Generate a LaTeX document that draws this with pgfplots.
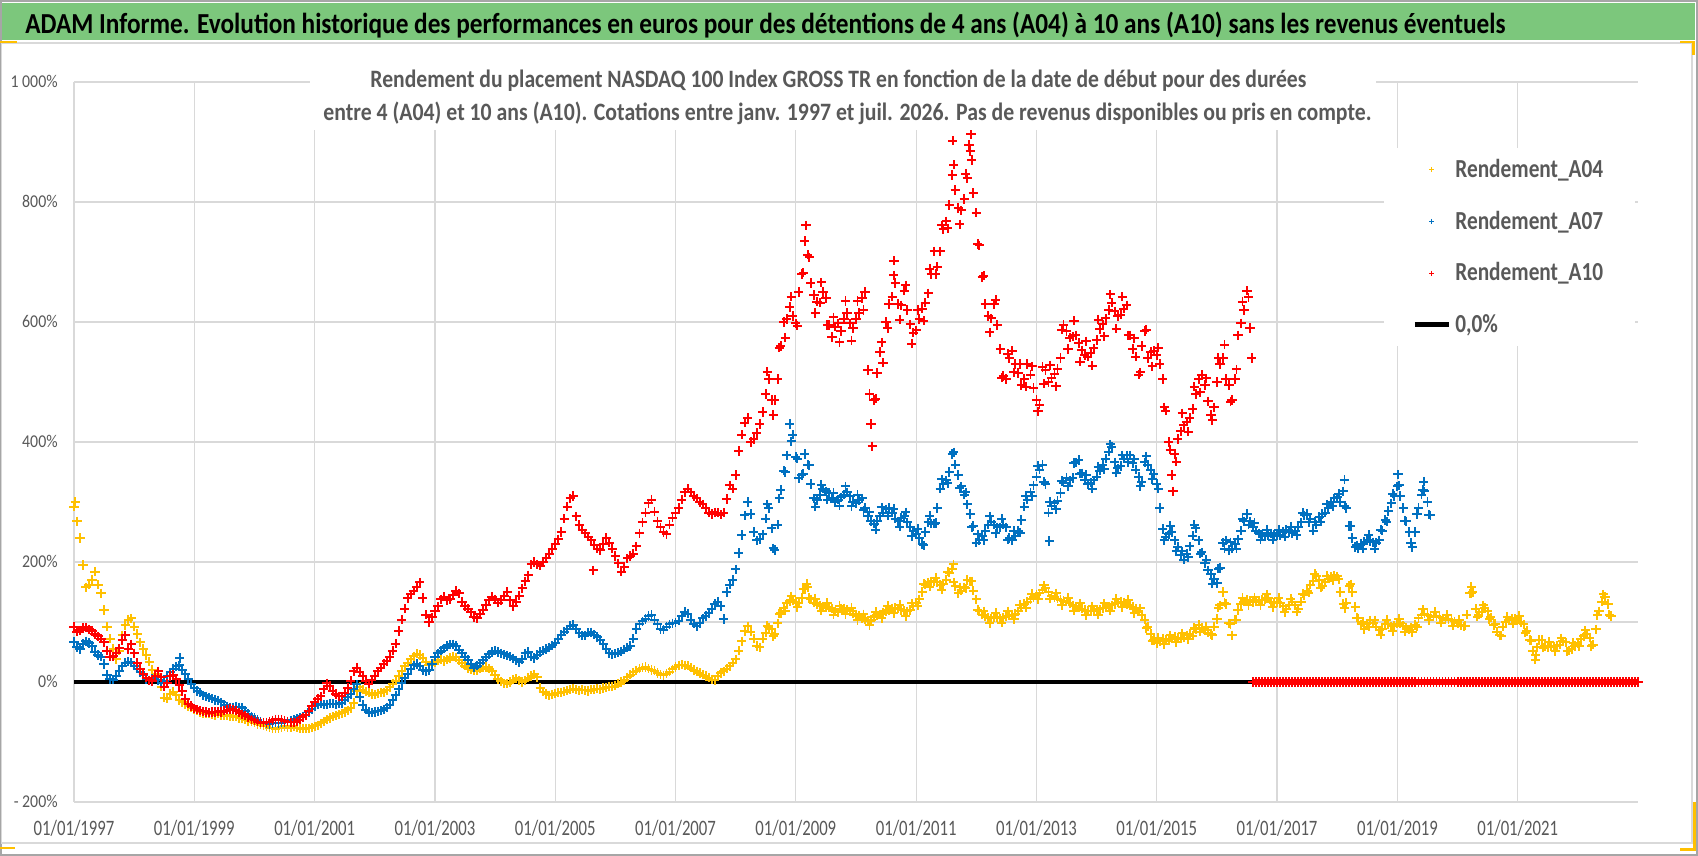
\documentclass[border=0pt]{standalone}
\usepackage{fontspec}
\usepackage{graphicx}
\usepackage{pgfplots}
\pgfplotsset{compat=1.18}
\setmainfont{Carlito}
\newfontfamily\xtickfont{Carlito}[FakeStretch=0.76]
\newfontfamily\ytickfont{Carlito}[FakeStretch=0.88]
\newfontfamily\legfont{Carlito}[FakeStretch=0.82]
\definecolor{ygold}{RGB}{255,192,0}
\definecolor{bblue}{RGB}{0,112,192}
\definecolor{rred}{RGB}{255,0,0}
\definecolor{gridgray}{RGB}{217,217,217}
\definecolor{txtgray}{RGB}{89,89,89}
\definecolor{bannergreen}{RGB}{124,199,124}
\pgfplotsset{
 ptstyle/.style={only marks, mark=+, mark size=2.3pt, mark options={line width=0.95pt}, forget plot}}
\begin{document}
\begin{tikzpicture}
\path[use as bounding box] (0pt,0pt) rectangle (849pt,428pt);
\fill[white] (0pt,0pt) rectangle (849pt,428pt);
\fill[bannergreen] (0pt,408pt) rectangle (847.5pt,426.5pt);
\draw[gray!70, line width=0.8pt] (0.4pt,0.4pt) rectangle (848.6pt,427.6pt);
\draw[gray!30, line width=0.6pt] (0.8pt,6.5pt) rectangle (846pt,406.5pt);
\node[anchor=base west, inner sep=0] at (12.5pt,411.4pt) {\resizebox{740pt}{\height}{\fontsize{14.5}{16}\selectfont\bfseries ADAM Informe. Evolution historique des performances en euros pour des détentions de 4 ans (A04) à 10 ans (A10) sans les revenus éventuels}};
\begin{axis}[
 at={(37pt,27pt)}, anchor=south west,
 width=782pt, height=360pt, scale only axis,
 xmin=1997, xmax=2023, ymin=-200, ymax=1000,
 clip=false,
 axis line style={draw=none},
 major tick length=0pt,
 xtick={1997,1999,2001,2003,2005,2007,2009,2011,2013,2015,2017,2019,2021},
 xticklabels={01/01/1997,01/01/1999,01/01/2001,01/01/2003,01/01/2005,01/01/2007,01/01/2009,01/01/2011,01/01/2013,01/01/2015,01/01/2017,01/01/2019,01/01/2021},
 ytick={-200,0,200,400,600,800,1000},
 yticklabels={- 200\%,0\%,200\%,400\%,600\%,800\%,1 000\%},
 extra y ticks={100}, extra y tick labels={},
 xmajorgrids, ymajorgrids,
 grid style={draw=gridgray, line width=0.6pt},
 extra y tick style={grid style={draw=gridgray, line width=0.6pt}},
 xticklabel style={font=\xtickfont\fontsize{11}{12}\selectfont, text=txtgray, anchor=base, yshift=-17pt, inner sep=0pt},
 yticklabel style={font=\ytickfont\fontsize{9}{10}\selectfont, text=txtgray, anchor=base east, inner sep=0pt, xshift=-8pt, yshift=-2.8pt},
 legend style={at={(axis description cs:0.8376,0.9083)}, anchor=north west, fill=white, draw=none, inner xsep=14pt, inner ysep=3.4pt, font=\legfont\bfseries\fontsize{13}{15}\selectfont, text=txtgray, row sep=11.2pt, nodes={inner sep=2pt, text depth=0.15em}},
 legend cell align=left,
]
% A04
\addplot[ptstyle, ygold] coordinates {
(1997,292)(1997.02,300)(1997.05,268)(1997.1,240)(1997.15,195)(1997.2,158)(1997.25,162)(1997.3,170)(1997.35,184)(1997.4,162)(1997.45,148)
(1997.5,120)(1997.55,92)(1997.6,72)(1997.65,55)(1997.7,38)(1997.75,52)(1997.8,78)(1997.85,95)(1997.9,104)(1997.95,106)
(1998,92)(1998.05,80)(1998.1,66)(1998.15,55)(1998.2,45)(1998.25,34)(1998.3,20)(1998.35,14)(1998.4,8)(1998.45,-8)
(1998.5,-26)(1998.55,-28)(1998.6,-20)(1998.65,-16)(1998.7,-22)(1998.75,-30)(1998.8,-34)(1998.85,-37)(1998.9,-40)(1998.95,-43)
(1999,-46)(1999.05,-48)(1999.1,-50)(1999.15,-52)(1999.2,-53)(1999.25,-52)(1999.3,-54)(1999.35,-55)(1999.4,-53)(1999.45,-55)
(1999.5,-56)(1999.55,-55)(1999.6,-57)(1999.65,-58)(1999.7,-57)(1999.75,-60)(1999.8,-61)(1999.85,-63)(1999.9,-65)(1999.95,-66)
(2000,-68)(2000.05,-70)(2000.1,-71)(2000.15,-73)(2000.2,-74)(2000.25,-76)(2000.3,-77)(2000.35,-78)(2000.4,-77)(2000.45,-75)
(2000.5,-74)(2000.55,-76)(2000.6,-75)(2000.65,-74)(2000.7,-76)(2000.75,-77)(2000.8,-78)(2000.85,-78)(2000.9,-77)(2000.95,-76)
(2001,-74)(2001.05,-72)(2001.1,-69)(2001.15,-66)(2001.2,-63)(2001.25,-60)(2001.3,-58)(2001.35,-56)(2001.4,-54)(2001.45,-52)
(2001.5,-50)(2001.55,-47)(2001.6,-44)(2001.65,-35)(2001.7,-15)(2001.75,-8)(2001.8,-13)(2001.85,-16)(2001.9,-18)(2001.95,-20)
(2002,-21)(2002.05,-19)(2002.1,-18)(2002.15,-17)(2002.2,-14)(2002.25,-9)(2002.3,-3)(2002.35,2)(2002.4,10)(2002.45,18)
(2002.5,26)(2002.55,32)(2002.6,38)(2002.65,43)(2002.7,47)(2002.75,45)(2002.8,40)(2002.85,34)(2002.9,28)(2002.95,30)
(2003,33)(2003.05,36)(2003.1,37)(2003.15,35)(2003.2,37)(2003.25,40)(2003.3,42)(2003.35,41)(2003.4,36)(2003.45,31)
(2003.5,27)(2003.55,23)(2003.6,21)(2003.65,20)(2003.7,19)(2003.75,22)(2003.8,24)(2003.85,25)(2003.9,22)(2003.95,19)
(2004,12)(2004.05,5)(2004.1,1)(2004.15,-2)(2004.2,-3)(2004.25,0)(2004.3,4)(2004.35,6)(2004.4,3)(2004.45,0)
(2004.5,3)(2004.55,7)(2004.6,10)(2004.65,13)(2004.7,8)(2004.75,-10)(2004.8,-16)(2004.85,-20)(2004.9,-22)(2004.95,-21)
(2005,-19)(2005.05,-18)(2005.1,-17)(2005.15,-16)(2005.2,-14)(2005.25,-13)(2005.3,-11)(2005.35,-12)(2005.4,-14)(2005.45,-13)
(2005.5,-14)(2005.55,-15)(2005.6,-13)(2005.65,-12)(2005.7,-11)(2005.75,-12)(2005.8,-10)(2005.85,-9)(2005.9,-8)(2005.95,-8)
(2006,-6)(2006.05,-3)(2006.1,0)(2006.15,3)(2006.2,8)(2006.25,12)(2006.3,16)(2006.35,19)(2006.4,22)(2006.45,24)
(2006.5,25)(2006.55,22)(2006.6,20)(2006.65,19)(2006.7,15)(2006.75,12)(2006.8,11)(2006.85,14)(2006.9,17)(2006.95,21)
(2007,25)(2007.05,28)(2007.1,29)(2007.15,28)(2007.2,27)(2007.25,24)(2007.3,20)(2007.35,18)(2007.4,15)(2007.45,12)
(2007.5,10)(2007.55,7)(2007.6,4)(2007.65,3)(2007.7,10)(2007.75,15)(2007.8,18)(2007.85,22)(2007.9,26)(2007.95,32)
(2008,38)(2008.05,52)(2008.1,68)(2008.15,85)(2008.2,93)(2008.25,84)(2008.3,72)(2008.35,60)(2008.4,58)(2008.45,72)
(2008.5,82)(2008.55,91)(2008.6,88)(2008.65,80)(2008.7,98)(2008.75,115)(2008.8,124)(2008.85,131)(2008.9,135)(2008.95,136)
(2009,134)(2009.05,132)(2009.1,140)(2009.15,155)(2009.18,164)(2009.2,158)(2009.25,138)(2009.3,132)(2009.35,130)(2009.4,128)(2009.45,126)
(2009.5,125)(2009.55,124)(2009.6,122)(2009.65,118)(2009.7,116)(2009.75,122)(2009.8,123)(2009.85,120)(2009.9,118)(2009.95,114)
(2010,112)(2010.05,110)(2010.1,106)(2010.15,104)(2010.2,102)(2010.25,104)(2010.3,108)(2010.35,111)(2010.4,113)(2010.45,115)
(2010.5,118)(2010.55,120)(2010.6,123)(2010.65,124)(2010.7,122)(2010.75,120)(2010.8,119)(2010.85,118)(2010.9,120)(2010.95,126)
(2011,132)(2011.05,138)(2011.1,150)(2011.15,162)(2011.2,166)(2011.25,168)(2011.3,167)(2011.35,166)(2011.4,162)(2011.45,163)
(2011.5,170)(2011.55,182)(2011.6,188)(2011.62,196)(2011.65,160)(2011.7,148)(2011.75,152)(2011.8,158)(2011.85,170)(2011.9,168)(2011.95,152)
(2012,138)(2012.05,118)(2012.1,112)(2012.15,109)(2012.2,107)(2012.25,106)(2012.3,108)(2012.35,107)(2012.4,106)(2012.45,108)
(2012.5,110)(2012.55,111)(2012.6,112)(2012.65,114)(2012.7,118)(2012.75,124)(2012.8,130)(2012.85,134)(2012.9,138)(2012.95,141)
(2013,145)(2013.05,148)(2013.1,154)(2013.15,156)(2013.2,150)(2013.25,144)(2013.3,141)(2013.35,139)(2013.4,137)(2013.45,135)
(2013.5,134)(2013.55,131)(2013.6,128)(2013.65,126)(2013.7,124)(2013.75,122)(2013.8,120)(2013.85,119)(2013.9,118)(2013.95,118)
(2014,120)(2014.05,121)(2014.1,123)(2014.15,124)(2014.2,126)(2014.25,128)(2014.3,130)(2014.35,132)(2014.4,134)(2014.45,133)
(2014.5,130)(2014.55,128)(2014.6,125)(2014.65,122)(2014.7,118)(2014.75,112)(2014.8,104)(2014.85,92)(2014.9,80)(2014.95,70)
(2015,65)(2015.05,68)(2015.1,72)(2015.15,70)(2015.2,69)(2015.25,72)(2015.3,75)(2015.35,74)(2015.4,72)(2015.45,74)
(2015.5,78)(2015.55,80)(2015.6,77)(2015.65,88)(2015.7,95)(2015.75,90)(2015.8,86)(2015.85,82)(2015.9,80)(2015.95,92)
(2016,105)(2016.05,128)(2016.1,150)(2016.15,130)(2016.2,98)(2016.25,78)(2016.3,104)(2016.35,120)(2016.4,130)(2016.45,134)
(2016.5,137)(2016.55,135)(2016.6,133)(2016.65,134)(2016.7,136)(2016.75,137)(2016.8,137)(2016.85,140)(2016.9,134)(2016.95,132)
(2017,133)(2017.05,131)(2017.1,126)(2017.15,122)(2017.2,128)(2017.25,134)(2017.3,128)(2017.35,122)(2017.4,134)(2017.45,145)
(2017.5,152)(2017.55,162)(2017.6,168)(2017.65,177)(2017.7,170)(2017.75,160)(2017.8,166)(2017.85,172)(2017.9,175)(2017.95,178)
(2018,176)(2018.05,150)(2018.1,130)(2018.15,132)(2018.2,160)(2018.25,150)(2018.3,125)(2018.35,106)(2018.4,96)(2018.45,88)
(2018.5,98)(2018.55,103)(2018.6,98)(2018.65,92)(2018.7,86)(2018.75,88)(2018.8,96)(2018.85,96)(2018.9,93)(2018.95,94)
(2019,97)(2019.05,98)(2019.1,94)(2019.15,90)(2019.2,87)(2019.25,83)(2019.3,95)(2019.35,106)(2019.4,112)(2019.45,114)
(2019.5,112)(2019.55,110)(2019.6,109)(2019.65,110)(2019.7,108)(2019.75,106)(2019.8,104)(2019.85,105)(2019.9,103)(2019.95,101)
(2020,98)(2020.05,95)(2020.1,93)(2020.15,112)(2020.2,148)(2020.23,159)(2020.25,150)(2020.3,122)(2020.35,112)(2020.4,116)(2020.45,124)
(2020.5,118)(2020.55,108)(2020.6,95)(2020.65,84)(2020.7,78)(2020.75,92)(2020.8,100)(2020.85,103)(2020.9,105)(2020.95,106)
(2021,104)(2021.05,100)(2021.1,96)(2021.15,85)(2021.2,70)(2021.25,52)(2021.29,37)(2021.3,45)(2021.35,70)(2021.4,70)(2021.45,60)
(2021.5,58)(2021.55,60)(2021.6,59)(2021.65,60)(2021.7,62)(2021.75,68)(2021.8,66)(2021.85,52)(2021.9,55)(2021.95,60)
(2022,64)(2022.05,72)(2022.1,76)(2022.15,80)(2022.2,74)(2022.25,62)(2022.3,88)(2022.35,118)(2022.4,134)(2022.45,142)
(2022.5,130)(2022.55,110)
};
% A04: further points of the band 2008-2022
\addplot[ptstyle, ygold] coordinates {
(2008.525,94)(2008.625,76)(2008.725,114)(2008.825,119)(2008.925,143)(2009.025,125)(2009.125,155)(2009.225,140)(2009.325,139)(2009.425,119)
(2009.525,132)(2009.625,112)(2009.725,127)(2009.825,113)(2009.925,124)(2010.025,103)(2010.125,113)(2010.225,95)(2010.325,117)(2010.425,106)
(2010.525,127)(2010.625,115)(2010.725,129)(2010.825,110)(2010.925,131)(2011.025,127)(2011.125,164)(2011.225,159)(2011.325,174)(2011.425,154)
(2011.525,184)(2011.625,166)(2011.725,158)(2011.825,156)(2011.925,168)(2012.025,120)(2012.125,118)(2012.225,98)(2012.325,115)(2012.425,99)
(2012.525,118)(2012.625,105)(2012.725,129)(2012.825,124)(2012.925,147)(2013.025,138)(2013.125,161)(2013.225,139)(2013.325,148)(2013.425,128)
(2013.525,140)(2013.625,119)(2013.725,131)(2013.825,111)(2013.925,126)(2014.025,112)(2014.125,131)(2014.225,119)(2014.325,139)(2014.425,125)
(2014.525,137)(2014.625,115)(2014.725,123)(2014.825,90)(2014.925,69)(2015.025,74)(2015.125,63)(2015.225,78)(2015.325,66)(2015.425,81)
(2015.525,71)(2015.625,90)(2015.725,84)(2015.825,92)(2015.925,78)(2016.025,124)(2016.125,132)(2016.225,96)(2016.325,104)(2016.425,140)
(2016.525,128)(2016.625,141)(2016.725,128)(2016.825,146)(2016.925,125)(2017.025,140)(2017.125,116)(2017.225,139)(2017.325,117)(2017.425,147)
(2017.525,149)(2017.625,180)(2017.725,157)(2017.825,177)(2017.925,170)(2018.025,171)(2018.125,123)(2018.225,163)(2018.325,107)(2018.425,100)
(2018.525,92)(2018.625,103)(2018.725,79)(2018.825,104)(2018.925,85)(2019.025,105)(2019.125,84)(2019.225,91)(2019.325,92)(2019.425,121)
(2019.525,103)(2019.625,117)(2019.725,99)(2019.825,112)(2019.925,94)(2020.025,104)(2020.125,94)(2020.225,148)(2020.325,109)(2020.425,128)
(2020.525,105)(2020.625,97)(2020.725,77)(2020.825,109)(2020.925,97)(2021.025,110)(2021.125,82)(2021.225,69)(2021.325,58)(2021.425,57)
(2021.525,67)(2021.625,51)(2021.725,73)(2021.825,51)(2021.925,65)(2022.025,60)(2022.125,86)(2022.225,60)(2022.325,111)(2022.425,146)
(2022.525,112)
};
% A07
\addplot[ptstyle, bblue] coordinates {
(1997,67)(1997.05,58)(1997.1,55)(1997.15,64)(1997.2,68)(1997.25,65)(1997.3,60)(1997.35,50)(1997.4,45)(1997.45,42)
(1997.5,30)(1997.55,12)(1997.6,5)(1997.65,4)(1997.7,10)(1997.75,18)(1997.8,26)(1997.85,32)(1997.9,34)(1997.95,32)
(1998,27)(1998.05,22)(1998.1,16)(1998.15,11)(1998.2,5)(1998.25,3)(1998.3,6)(1998.35,8)(1998.4,3)(1998.45,-2)
(1998.5,2)(1998.55,10)(1998.6,16)(1998.65,22)(1998.7,26)(1998.75,28)(1998.76,40)(1998.8,20)(1998.85,14)(1998.9,5)(1998.95,-3)
(1999,-10)(1999.05,-15)(1999.1,-18)(1999.15,-22)(1999.2,-24)(1999.25,-26)(1999.3,-28)(1999.35,-30)(1999.4,-31)(1999.45,-34)
(1999.5,-38)(1999.55,-41)(1999.6,-42)(1999.65,-42)(1999.7,-41)(1999.75,-42)(1999.8,-43)(1999.85,-48)(1999.9,-53)(1999.95,-57)
(2000,-60)(2000.05,-63)(2000.1,-66)(2000.15,-68)(2000.2,-69)(2000.25,-70)(2000.3,-69)(2000.35,-68)(2000.4,-69)(2000.45,-68)
(2000.5,-67)(2000.55,-66)(2000.6,-64)(2000.65,-63)(2000.7,-61)(2000.75,-59)(2000.8,-57)(2000.85,-55)(2000.9,-50)(2000.95,-45)
(2001,-40)(2001.05,-37)(2001.1,-36)(2001.15,-38)(2001.2,-37)(2001.25,-36)(2001.3,-36)(2001.35,-37)(2001.4,-36)(2001.45,-35)
(2001.5,-30)(2001.55,-25)(2001.6,-20)(2001.65,-12)(2001.7,-4)(2001.75,-25)(2001.8,-38)(2001.85,-46)(2001.9,-50)(2001.95,-51)
(2002,-50)(2002.05,-49)(2002.1,-48)(2002.15,-46)(2002.2,-43)(2002.25,-38)(2002.3,-30)(2002.35,-22)(2002.4,-12)(2002.45,-2)
(2002.5,6)(2002.55,14)(2002.6,22)(2002.65,28)(2002.7,30)(2002.75,26)(2002.8,20)(2002.85,18)(2002.9,20)(2002.95,30)
(2003,42)(2003.05,48)(2003.1,52)(2003.15,56)(2003.2,60)(2003.25,62)(2003.3,63)(2003.35,60)(2003.4,54)(2003.45,48)
(2003.5,42)(2003.55,37)(2003.6,30)(2003.65,24)(2003.7,27)(2003.75,31)(2003.8,36)(2003.85,41)(2003.9,46)(2003.95,50)
(2004,52)(2004.05,50)(2004.1,48)(2004.15,46)(2004.2,44)(2004.25,42)(2004.3,39)(2004.35,36)(2004.4,33)(2004.45,38)
(2004.5,48)(2004.55,50)(2004.6,42)(2004.65,40)(2004.7,45)(2004.75,50)(2004.8,52)(2004.85,55)(2004.9,58)(2004.95,61)
(2005,65)(2005.05,72)(2005.1,79)(2005.15,84)(2005.2,88)(2005.25,94)(2005.3,95)(2005.35,88)(2005.4,81)(2005.45,77)
(2005.5,78)(2005.55,82)(2005.6,83)(2005.65,79)(2005.7,75)(2005.75,70)(2005.8,64)(2005.85,55)(2005.9,48)(2005.95,46)
(2006,47)(2006.05,49)(2006.1,51)(2006.15,54)(2006.2,57)(2006.25,60)(2006.3,72)(2006.35,88)(2006.4,96)(2006.45,101)
(2006.5,105)(2006.55,110)(2006.6,112)(2006.65,104)(2006.7,96)(2006.75,88)(2006.8,87)(2006.85,92)(2006.9,96)(2006.95,98)
(2007,99)(2007.05,102)(2007.1,110)(2007.15,117)(2007.2,114)(2007.25,104)(2007.3,97)(2007.35,93)(2007.4,98)(2007.45,106)
(2007.5,110)(2007.55,115)(2007.6,122)(2007.65,130)(2007.7,134)(2007.75,126)(2007.8,105)(2007.85,150)(2007.9,162)(2007.95,170)
(2008,188)(2008.05,215)(2008.1,245)(2008.15,278)(2008.2,300)(2008.25,280)(2008.3,250)(2008.35,236)(2008.4,238)(2008.45,246)
(2008.5,272)(2008.55,290)(2008.6,256)(2008.65,220)(2008.7,262)(2008.75,320)(2008.8,352)(2008.85,378)(2008.9,430)(2008.95,412)
(2009,375)(2009.05,340)(2009.1,345)(2009.15,380)(2009.2,362)(2009.25,330)(2009.3,306)(2009.35,303)(2009.4,312)(2009.45,322)
(2009.5,318)(2009.55,315)(2009.6,306)(2009.65,300)(2009.7,304)(2009.75,308)(2009.8,312)(2009.85,316)(2009.9,310)(2009.95,300)
(2010,298)(2010.05,303)(2010.1,306)(2010.15,290)(2010.2,276)(2010.25,268)(2010.3,264)(2010.35,268)(2010.4,276)(2010.45,282)
(2010.5,288)(2010.55,290)(2010.6,282)(2010.65,272)(2010.7,268)(2010.75,274)(2010.8,276)(2010.85,266)(2010.9,258)(2010.95,252)
(2011,247)(2011.05,240)(2011.1,230)(2011.15,250)(2011.2,266)(2011.25,264)(2011.3,264)(2011.35,290)(2011.4,322)(2011.45,330)
(2011.5,336)(2011.55,350)(2011.6,380)(2011.65,362)(2011.7,345)(2011.75,326)(2011.8,312)(2011.85,296)(2011.9,280)(2011.95,260)
(2012,232)(2012.05,236)(2012.1,244)(2012.15,252)(2012.2,262)(2012.25,267)(2012.3,262)(2012.35,258)(2012.4,258)(2012.45,262)
(2012.5,258)(2012.55,240)(2012.6,236)(2012.65,244)(2012.7,252)(2012.75,270)(2012.8,292)(2012.85,304)(2012.9,316)(2012.95,328)
(2013,342)(2013.05,354)(2013.1,362)(2013.15,330)(2013.2,282)(2013.21,235)(2013.25,294)(2013.3,298)(2013.35,302)(2013.4,315)(2013.45,332)
(2013.5,340)(2013.55,336)(2013.6,340)(2013.65,366)(2013.7,370)(2013.75,348)(2013.8,336)(2013.85,330)(2013.9,332)(2013.95,336)
(2014,342)(2014.05,352)(2014.1,362)(2014.15,372)(2014.2,384)(2014.25,392)(2014.3,366)(2014.35,356)(2014.4,360)(2014.45,372)
(2014.5,378)(2014.55,378)(2014.6,365)(2014.65,354)(2014.7,342)(2014.75,334)(2014.8,366)(2014.85,362)(2014.9,354)(2014.95,346)
(2015,330)(2015.05,290)(2015.1,255)(2015.15,242)(2015.2,246)(2015.25,250)(2015.3,236)(2015.35,225)(2015.4,212)(2015.45,204)
(2015.5,214)(2015.55,226)(2015.6,244)(2015.65,256)(2015.7,236)(2015.75,216)(2015.8,198)(2015.85,186)(2015.9,180)(2015.95,172)
(2016,165)(2016.05,190)(2016.1,232)(2016.15,236)(2016.2,220)(2016.25,222)(2016.3,230)(2016.35,238)(2016.4,252)(2016.45,268)
(2016.5,280)(2016.55,268)(2016.6,258)(2016.65,252)(2016.7,248)(2016.75,246)(2016.8,243)(2016.85,245)(2016.9,248)(2016.95,246)
(2017,244)(2017.05,245)(2017.1,250)(2017.15,254)(2017.2,250)(2017.25,248)(2017.3,252)(2017.35,258)(2017.4,266)(2017.45,278)
(2017.5,280)(2017.55,272)(2017.6,252)(2017.65,262)(2017.7,275)(2017.75,280)(2017.8,282)(2017.85,290)(2017.9,300)(2017.95,306)
(2018,308)(2018.05,300)(2018.1,318)(2018.12,337)(2018.15,290)(2018.2,260)(2018.25,240)(2018.3,225)(2018.35,222)(2018.4,230)(2018.45,234)
(2018.5,236)(2018.55,235)(2018.6,233)(2018.65,232)(2018.7,236)(2018.75,252)(2018.8,270)(2018.85,285)(2018.9,298)(2018.95,310)
(2019,326)(2019.01,346)(2019.05,310)(2019.1,290)(2019.15,268)(2019.2,250)(2019.25,225)(2019.3,250)(2019.35,290)(2019.4,312)(2019.44,334)(2019.45,318)
(2019.5,300)(2019.55,278)
};
% A07: further points of the band 2008-2019
\addplot[ptstyle, bblue] coordinates {
(2008.525,296)(2008.625,223)(2008.725,306)(2008.825,350)(2008.925,401)(2009.025,372)(2009.125,347)(2009.225,361)(2009.325,292)(2009.425,329)
(2009.525,304)(2009.625,315)(2009.725,294)(2009.825,326)(2009.925,293)(2010.025,312)(2010.125,286)(2010.225,284)(2010.325,254)(2010.425,291)
(2010.525,277)(2010.625,289)(2010.725,259)(2010.825,283)(2010.925,243)(2011.025,255)(2011.125,228)(2011.225,277)(2011.325,265)(2011.425,338)
(2011.525,331)(2011.625,383)(2011.725,323)(2011.825,316)(2011.925,258)(2012.025,246)(2012.125,236)(2012.225,276)(2012.325,248)(2012.425,272)
(2012.525,237)(2012.625,252)(2012.725,249)(2012.825,310)(2012.925,310)(2013.025,360)(2013.125,334)(2013.225,300)(2013.325,288)(2013.425,335)
(2013.525,326)(2013.625,365)(2013.725,347)(2013.825,345)(2013.925,322)(2014.025,359)(2014.125,355)(2014.225,396)(2014.325,349)(2014.425,378)
(2014.525,366)(2014.625,371)(2014.725,326)(2014.825,376)(2014.925,338)(2015.025,322)(2015.125,236)(2015.225,260)(2015.325,218)(2015.425,218)
(2015.525,208)(2015.625,262)(2015.725,214)(2015.825,204)(2015.925,164)(2016.025,189)(2016.125,222)(2016.225,233)(2016.325,222)(2016.425,272)
(2016.525,262)(2016.625,265)(2016.725,237)(2016.825,254)(2016.925,237)(2017.025,254)(2017.125,242)(2017.225,259)(2017.325,245)(2017.425,282)
(2017.525,266)(2017.625,267)(2017.725,267)(2017.825,296)(2017.925,293)(2018.025,314)(2018.125,294)(2018.225,260)(2018.325,228)(2018.425,222)
(2018.525,245)(2018.625,222)(2018.725,254)(2018.825,267)(2018.925,314)(2019.025,328)(2019.125,269)(2019.225,232)(2019.325,280)(2019.425,320)
(2019.525,279)
};
% A10
\addplot[ptstyle, rred] coordinates {
(1997,92)(1997.05,84)(1997.1,86)(1997.15,90)(1997.2,91)(1997.25,88)(1997.3,85)(1997.35,80)(1997.4,76)(1997.45,72)
(1997.5,66)(1997.55,52)(1997.6,42)(1997.65,43)(1997.7,48)(1997.75,56)(1997.8,70)(1997.85,78)(1997.9,55)(1997.95,63)
(1998,48)(1998.05,32)(1998.1,22)(1998.15,14)(1998.2,7)(1998.25,3)(1998.3,1)(1998.35,10)(1998.4,18)(1998.45,8)
(1998.5,-8)(1998.55,-2)(1998.6,10)(1998.65,12)(1998.7,5)(1998.75,-5)(1998.8,-15)(1998.85,-28)(1998.9,-36)(1998.95,-40)
(1999,-44)(1999.05,-46)(1999.1,-48)(1999.15,-49)(1999.2,-50)(1999.25,-51)(1999.3,-50)(1999.35,-50)(1999.4,-49)(1999.45,-50)
(1999.5,-48)(1999.55,-46)(1999.6,-45)(1999.65,-46)(1999.7,-48)(1999.75,-51)(1999.8,-54)(1999.85,-56)(1999.9,-59)(1999.95,-62)
(2000,-64)(2000.05,-66)(2000.1,-68)(2000.15,-68)(2000.2,-67)(2000.25,-66)(2000.3,-64)(2000.35,-62)(2000.4,-62)(2000.45,-63)
(2000.5,-65)(2000.55,-66)(2000.6,-67)(2000.65,-67)(2000.7,-66)(2000.75,-63)(2000.8,-59)(2000.85,-55)(2000.9,-48)(2000.95,-40)
(2001,-33)(2001.05,-28)(2001.1,-24)(2001.15,-12)(2001.2,-2)(2001.25,-6)(2001.3,-15)(2001.35,-20)(2001.4,-24)(2001.45,-24)
(2001.5,-18)(2001.55,-10)(2001.6,2)(2001.65,18)(2001.7,24)(2001.75,16)(2001.8,10)(2001.85,2)(2001.9,-3)(2001.95,4)
(2002,10)(2002.05,18)(2002.1,24)(2002.15,30)(2002.2,35)(2002.25,42)(2002.3,52)(2002.35,64)(2002.4,85)(2002.45,104)
(2002.5,122)(2002.55,140)(2002.6,146)(2002.65,152)(2002.7,158)(2002.75,166)(2002.8,140)(2002.85,112)(2002.9,100)(2002.95,108)
(2003,118)(2003.05,126)(2003.1,138)(2003.15,142)(2003.2,136)(2003.25,138)(2003.3,145)(2003.35,152)(2003.4,148)(2003.45,134)
(2003.5,126)(2003.55,122)(2003.6,116)(2003.65,108)(2003.7,106)(2003.75,114)(2003.8,120)(2003.85,128)(2003.9,136)(2003.95,142)
(2004,138)(2004.05,132)(2004.1,136)(2004.15,144)(2004.2,150)(2004.25,136)(2004.3,126)(2004.35,134)(2004.4,144)(2004.45,156)
(2004.5,168)(2004.55,178)(2004.6,196)(2004.65,200)(2004.7,196)(2004.75,194)(2004.8,200)(2004.85,206)(2004.9,214)(2004.95,222)
(2005,230)(2005.05,238)(2005.1,250)(2005.15,272)(2005.2,292)(2005.25,306)(2005.3,310)(2005.35,276)(2005.4,262)(2005.45,254)
(2005.5,248)(2005.55,242)(2005.6,236)(2005.63,186)(2005.65,228)(2005.7,222)(2005.75,220)(2005.8,230)(2005.85,240)(2005.9,232)(2005.95,222)
(2006,210)(2006.05,198)(2006.1,184)(2006.15,192)(2006.2,206)(2006.25,210)(2006.3,214)(2006.35,226)(2006.4,248)(2006.45,266)
(2006.5,282)(2006.55,298)(2006.6,304)(2006.65,284)(2006.7,268)(2006.75,258)(2006.8,250)(2006.85,246)(2006.9,262)(2006.95,274)
(2007,282)(2007.05,290)(2007.1,304)(2007.15,316)(2007.2,322)(2007.25,316)(2007.3,310)(2007.35,306)(2007.4,300)(2007.45,296)
(2007.5,290)(2007.55,282)(2007.6,280)(2007.65,283)(2007.7,282)(2007.75,279)(2007.8,282)(2007.85,305)(2007.9,328)(2007.95,322)
(2008,345)(2008.05,385)(2008.1,412)(2008.15,432)(2008.2,440)(2008.25,400)(2008.3,405)(2008.35,415)(2008.4,430)(2008.45,450)
(2008.5,480)(2008.55,505)(2008.6,470)(2008.65,470)(2008.7,505)(2008.75,560)(2008.8,600)(2008.85,605)(2008.9,625)(2008.95,610)
(2009,598)(2009.05,650)(2009.1,680)(2009.15,735)(2009.17,761)(2009.2,712)(2009.25,665)(2009.3,645)(2009.35,634)(2009.4,632)(2009.45,650)
(2009.5,640)(2009.55,595)(2009.6,575)(2009.65,592)(2009.7,598)(2009.75,585)(2009.8,605)(2009.85,615)(2009.9,598)(2009.95,590)
(2010,605)(2010.05,615)(2010.1,640)(2010.15,650)(2010.2,520)(2010.25,430)(2010.27,393)(2010.3,470)(2010.35,515)(2010.4,550)(2010.45,532)
(2010.5,600)(2010.55,630)(2010.6,642)(2010.63,702)(2010.65,665)(2010.7,630)(2010.75,628)(2010.8,652)(2010.85,620)(2010.9,596)(2010.95,582)
(2011,586)(2011.05,605)(2011.1,622)(2011.15,632)(2011.2,648)(2011.25,680)(2011.3,718)(2011.35,692)(2011.4,718)(2011.45,755)
(2011.5,768)(2011.55,795)(2011.6,845)(2011.61,902)(2011.65,820)(2011.7,790)(2011.75,786)(2011.8,805)(2011.85,840)(2011.88,895)(2011.9,885)(2011.91,913)(2011.95,815)
(2012,782)(2012.05,728)(2012.1,675)(2012.15,630)(2012.2,610)(2012.25,606)(2012.3,630)(2012.35,595)(2012.4,555)(2012.45,510)
(2012.5,505)(2012.55,540)(2012.6,552)(2012.65,530)(2012.7,515)(2012.75,495)(2012.8,505)(2012.85,530)(2012.9,512)(2012.95,490)
(2013,470)(2013.05,462)(2013.1,525)(2013.15,520)(2013.2,500)(2013.25,506)(2013.3,514)(2013.35,522)(2013.4,540)(2013.45,595)
(2013.5,585)(2013.55,574)(2013.6,576)(2013.65,578)(2013.7,565)(2013.75,553)(2013.8,545)(2013.85,542)(2013.9,548)(2013.95,556)
(2014,570)(2014.05,588)(2014.1,596)(2014.15,606)(2014.2,620)(2014.25,632)(2014.3,618)(2014.35,610)(2014.4,612)(2014.45,622)
(2014.5,628)(2014.55,578)(2014.6,555)(2014.65,542)(2014.7,512)(2014.75,560)(2014.8,585)(2014.85,540)(2014.9,550)(2014.95,552)
(2015,545)(2015.05,530)(2015.1,505)(2015.15,452)(2015.2,400)(2015.25,345)(2015.27,318)(2015.3,380)(2015.35,405)(2015.4,418)(2015.45,428)
(2015.5,434)(2015.55,440)(2015.6,455)(2015.65,480)(2015.7,505)(2015.75,512)(2015.8,495)(2015.85,468)(2015.9,445)(2015.95,458)
(2016,500)(2016.05,530)(2016.1,540)(2016.15,505)(2016.2,495)(2016.25,470)(2016.3,505)(2016.35,578)(2016.4,598)(2016.45,620)
(2016.5,652)(2016.55,590)(2016.58,540)
};
% A10: further points of the scattered cloud 2008-2016
\addplot[ptstyle, rred] coordinates {
(2008.525,517)(2008.625,445)(2008.725,557)(2008.825,574)(2008.925,642)(2009.025,594)(2009.125,682)(2009.225,708)(2009.325,615)(2009.425,666)
(2009.525,595)(2009.625,608)(2009.725,566)(2009.825,635)(2009.925,569)(2010.025,635)(2010.125,620)(2010.225,480)(2010.325,472)(2010.425,566)
(2010.525,590)(2010.625,678)(2010.725,604)(2010.825,661)(2010.925,564)(2011.025,620)(2011.125,602)(2011.225,689)(2011.325,680)(2011.425,761)
(2011.525,756)(2011.625,862)(2011.725,763)(2011.825,847)(2011.925,870)(2012.025,730)(2012.125,677)(2012.225,583)(2012.325,637)(2012.425,507)
(2012.525,547)(2012.625,516)(2012.725,530)(2012.825,492)(2012.925,526)(2013.025,451)(2013.125,497)(2013.225,528)(2013.325,493)(2013.425,587)
(2013.525,555)(2013.625,602)(2013.725,534)(2013.825,568)(2013.925,527)(2014.025,604)(2014.125,576)(2014.225,646)(2014.325,589)(2014.425,642)
(2014.525,578)(2014.625,573)(2014.725,516)(2014.825,587)(2014.925,526)(2015.025,557)(2015.125,458)(2015.225,387)(2015.325,367)(2015.425,448)
(2015.525,417)(2015.625,492)(2015.725,483)(2015.825,506)(2015.925,436)(2016.025,540)(2016.125,562)(2016.225,467)(2016.325,521)(2016.425,634)
(2016.525,641)
};
% zero line
\addplot[black, line width=2.4pt, forget plot] coordinates {(1997,0) (2023,0)};
% A10 zero values after end of data
\addplot[rred, mark=+, mark size=2.3pt, mark options={line width=0.95pt}, line width=2.6pt, forget plot] coordinates {
(2016.6,0)(2016.65,0)(2016.7,0)(2016.75,0)(2016.8,0)(2016.85,0)(2016.9,0)(2016.95,0)(2017,0)(2017.05,0)
(2017.1,0)(2017.15,0)(2017.2,0)(2017.25,0)(2017.3,0)(2017.35,0)(2017.4,0)(2017.45,0)(2017.5,0)(2017.55,0)
(2017.6,0)(2017.65,0)(2017.7,0)(2017.75,0)(2017.8,0)(2017.85,0)(2017.9,0)(2017.95,0)(2018,0)(2018.05,0)
(2018.1,0)(2018.15,0)(2018.2,0)(2018.25,0)(2018.3,0)(2018.35,0)(2018.4,0)(2018.45,0)(2018.5,0)(2018.55,0)
(2018.6,0)(2018.65,0)(2018.7,0)(2018.75,0)(2018.8,0)(2018.85,0)(2018.9,0)(2018.95,0)(2019,0)(2019.05,0)
(2019.1,0)(2019.15,0)(2019.2,0)(2019.25,0)(2019.3,0)(2019.35,0)(2019.4,0)(2019.45,0)(2019.5,0)(2019.55,0)
(2019.6,0)(2019.65,0)(2019.7,0)(2019.75,0)(2019.8,0)(2019.85,0)(2019.9,0)(2019.95,0)(2020,0)(2020.05,0)
(2020.1,0)(2020.15,0)(2020.2,0)(2020.25,0)(2020.3,0)(2020.35,0)(2020.4,0)(2020.45,0)(2020.5,0)(2020.55,0)
(2020.6,0)(2020.65,0)(2020.7,0)(2020.75,0)(2020.8,0)(2020.85,0)(2020.9,0)(2020.95,0)(2021,0)(2021.05,0)
(2021.1,0)(2021.15,0)(2021.2,0)(2021.25,0)(2021.3,0)(2021.35,0)(2021.4,0)(2021.45,0)(2021.5,0)(2021.55,0)
(2021.6,0)(2021.65,0)(2021.7,0)(2021.75,0)(2021.8,0)(2021.85,0)(2021.9,0)(2021.95,0)(2022,0)(2022.05,0)
(2022.1,0)(2022.15,0)(2022.2,0)(2022.25,0)(2022.3,0)(2022.35,0)(2022.4,0)(2022.45,0)(2022.5,0)(2022.55,0)
(2022.6,0)(2022.65,0)(2022.7,0)(2022.75,0)(2022.8,0)(2022.85,0)(2022.9,0)(2022.95,0)(2023,0)
};
\addlegendimage{only marks, mark=+, mark size=1.3pt, mark options={line width=0.6pt}, ygold}
\addlegendentry{Rendement\_A04}
\addlegendimage{only marks, mark=+, mark size=1.3pt, mark options={line width=0.6pt}, bblue}
\addlegendentry{Rendement\_A07}
\addlegendimage{only marks, mark=+, mark size=1.3pt, mark options={line width=0.6pt}, rred}
\addlegendentry{Rendement\_A10}
\addlegendimage{black, line width=2.4pt}
\addlegendentry{0,0\%}
\end{axis}
% white box behind the subtitle
\fill[white] (155pt,363pt) rectangle (688pt,398pt);
\node[anchor=base west, inner sep=0, text=txtgray] at (185pt,384pt) {\resizebox{468pt}{\height}{\fontsize{12.5}{14}\selectfont\bfseries Rendement du placement NASDAQ 100 Index GROSS TR en fonction de la date de début pour des durées}};
\node[anchor=base west, inner sep=0, text=txtgray] at (161.5pt,367.5pt) {\resizebox{524pt}{\height}{\fontsize{12.5}{14}\selectfont\bfseries entre 4 (A04) et 10 ans (A10). Cotations entre janv. 1997 et juil. 2026. Pas de revenus disponibles ou pris en compte.}};
% selection marks
\draw[ygold, line width=1.3pt] (0pt,407pt) -- (8.5pt,407pt);
\draw[ygold, line width=1.3pt] (840pt,407pt) -- (846.6pt,407pt) -- (846.6pt,400.5pt);
\draw[ygold, line width=1.3pt] (847.2pt,27pt) -- (847.2pt,3.2pt) -- (840pt,3.2pt);
\draw[ygold, line width=1.3pt] (0pt,4pt) -- (7.5pt,4pt);
\end{tikzpicture}
\end{document}
